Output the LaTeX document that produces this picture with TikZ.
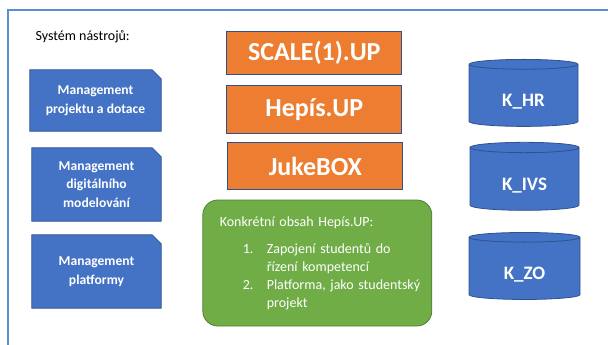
\documentclass[tikz,border=0pt]{standalone}
\usepackage{fontspec}
\setmainfont{Carlito}
\usetikzlibrary{shapes.geometric, positioning, backgrounds}
\definecolor{toolblue}{HTML}{4472C4}
\definecolor{edgeblue}{HTML}{2F528F}
\definecolor{frameblue}{HTML}{5B8FD2}
\definecolor{productorange}{HTML}{ED7D31}
\definecolor{contentgreen}{HTML}{70AD47}
\definecolor{edgegreen}{HTML}{507E32}

\begin{document}
\begin{tikzpicture}[
    x=1pt, y=-1pt,
    tool/.style={rectangle, text=white, align=center, inner sep=0pt, font=\bfseries\fontsize{13.6}{18.5}\selectfont},
    snip/.style={fill=toolblue, draw=edgeblue, line width=0.8pt},
    product/.style={rectangle, draw=edgeblue, fill=productorange, text=white, line width=1pt, minimum width=175, inner sep=0pt, font=\bfseries\fontsize{26}{32}\selectfont},
    store/.style={cylinder, shape border rotate=90, aspect=0.2, draw=edgeblue, fill=toolblue, line width=0.8pt, text=white, minimum width=109, minimum height=67, text height=24pt, text depth=3pt, font=\bfseries\fontsize{19}{23}\selectfont},
    content/.style={rectangle, rounded corners=15, draw=edgegreen, fill=contentgreen, line width=0.8pt, text=white, text width=229, inner xsep=0pt, minimum height=126, align=left, font=\fontsize{14}{17.7}\selectfont},
    node distance=9pt
]
\useasboundingbox (0,0) rectangle (608,345);

% Frame
\draw[frameblue, line width=1.8pt] (8,345) -- (8,10) -- (608,10);
\node[anchor=west, font=\fontsize{14}{17}\selectfont] (title) at (32,37) {Systém nástrojů:};

% Tools
\node[tool, minimum width=131, minimum height=61] (proj) at (95.5,100.5) {Management\\projektu a dotace};
\node[tool, minimum width=129, minimum height=73] (digi) at (96.5,184.5) {Management\\digitálního\\modelování};
\node[tool, minimum width=129, minimum height=73] (plat) at (96.5,271.5) {Management\\platformy};

% Products
\node[product, minimum height=43] (scale) at (314.3,53.3) {SCALE(1).UP};
\node[product, minimum height=48, below=10pt of scale] (hepis) {Hepís.UP};
\node[product, minimum height=47, below=8pt of hepis, xshift=1pt] (juke) {JukeBOX};

% Content
\node[content] (obsah) at (317.3,263) {\hspace*{17pt}Konkrétní obsah Hepís.UP:\\[10pt]
\hspace*{40pt}\makebox[24pt][l]{1.}Zapojení studentů do\\
\hspace*{64pt}řízení kompetencí\\
\hspace*{40pt}\makebox[24pt][l]{2.}Platforma, jako studentský\\
\hspace*{64pt}projekt};

% Stores
\node[store] (khr) at (523.5,96.4) {K\_HR};
\node[store, minimum height=68] (kivs) at (524.5,180) {K\_IVS};
\node[store, minimum width=111] (kzo) at (524.5,269.4) {K\_ZO};

\begin{scope}[on background layer]
\foreach \n in {proj, digi, plat}
  \draw[snip] (\n.north west) -- ([xshift=-9pt]\n.north east) -- ([yshift=-9pt]\n.north east) -- (\n.south east) -- (\n.south west) -- cycle;
\end{scope}
\end{tikzpicture}
\end{document}
